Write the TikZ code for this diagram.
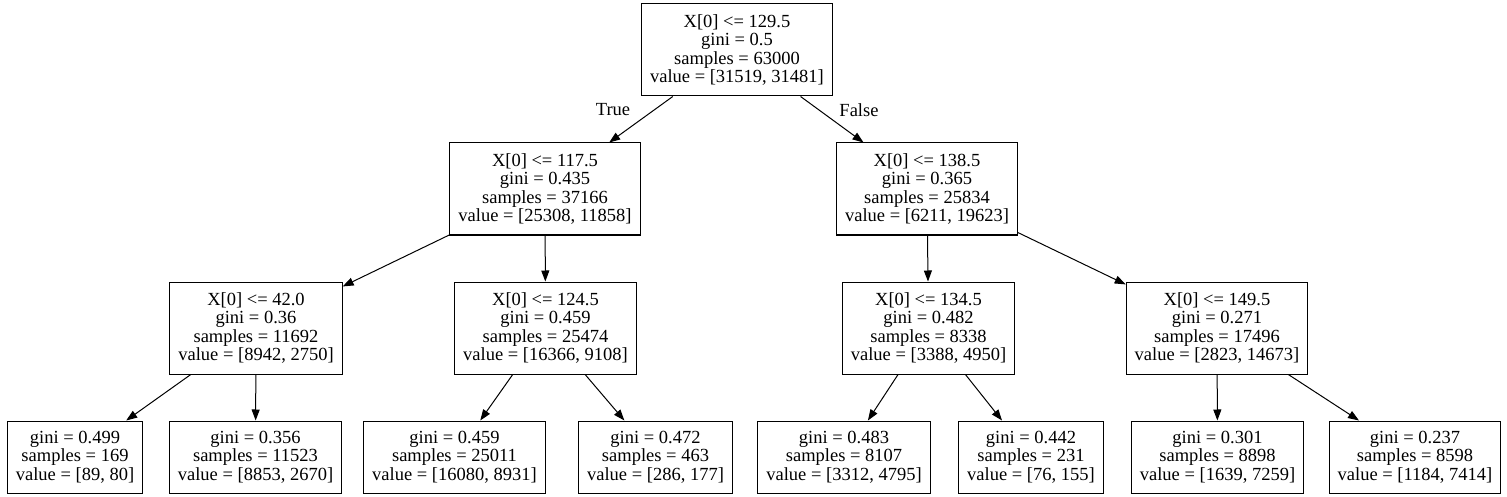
\documentclass[tikz,border=0pt]{standalone}
\usepackage{fontspec}
\setmainfont{Liberation Serif}
\usepackage{tikz}
\usetikzlibrary{arrows.meta,positioning,shapes}

\begin{document}
\begin{tikzpicture}[x=1pt,y=-1pt,-{Triangle[length=11pt,width=8pt]},line width=1pt,
    split/.style={draw,rectangle,align=center,inner xsep=8.5pt,inner ysep=0pt,minimum height=92pt,font=\fontsize{18.5}{18.3}\selectfont},
    leaf/.style={split,minimum height=72pt},
    branch/.style={font=\fontsize{18.5}{18.3}\selectfont}]
%
   \useasboundingbox (0,0) rectangle (1507,497);
   \node[split]  (R)  at (737,50)    {X[0] <= 129.5\\gini = 0.5\\samples = 63000\\value = [31519, 31481]};
   \node[split]  (N1) at (545,189)   {X[0] <= 117.5\\gini = 0.435\\samples = 37166\\value = [25308, 11858]};
   \node[split]  (N2) at (927,189)   {X[0] <= 138.5\\gini = 0.365\\samples = 25834\\value = [6211, 19623]};
   \node[split]  (N3) at (256,328)   {X[0] <= 42.0\\gini = 0.36\\samples = 11692\\value = [8942, 2750]};
   \node[split]  (N4) at (545.5,328) {X[0] <= 124.5\\gini = 0.459\\samples = 25474\\value = [16366, 9108]};
   \node[split]  (N5) at (928.5,328) {X[0] <= 134.5\\gini = 0.482\\samples = 8338\\value = [3388, 4950]};
   \node[split]  (N6) at (1217,328)  {X[0] <= 149.5\\gini = 0.271\\samples = 17496\\value = [2823, 14673]};
   \node[leaf]   (L1) at (75,457)    {gini = 0.499\\samples = 169\\value = [89, 80]};
   \node[leaf]   (L2) at (255.5,457) {gini = 0.356\\samples = 11523\\value = [8853, 2670]};
   \node[leaf]   (L3) at (454.5,457) {gini = 0.459\\samples = 25011\\value = [16080, 8931]};
   \node[leaf]   (L4) at (655.5,457) {gini = 0.472\\samples = 463\\value = [286, 177]};
   \node[leaf]   (L5) at (844,457)   {gini = 0.483\\samples = 8107\\value = [3312, 4795]};
   \node[leaf]   (L6) at (1031,457)  {gini = 0.442\\samples = 231\\value = [76, 155]};
   \node[leaf]   (L7) at (1217.5,457){gini = 0.301\\samples = 8898\\value = [1639, 7259]};
   \node[leaf]   (L8) at (1415,457)  {gini = 0.237\\samples = 8598\\value = [1184, 7414]};
   \node[branch] (T)  at (613,110)   {True};
   \node[branch] (F)  at (859,110)   {False};
   \path (R) edge (N1) (R) edge (N2);
   \path (N1) edge (N3) (N1) edge (N4);
   \path (N2) edge (N5) (N2) edge (N6);
   \path (N3) edge (L1) (N3) edge (L2);
   \path (N4) edge (L3) (N4) edge (L4);
   \path (N5) edge (L5) (N5) edge (L6);
   \path (N6) edge (L7) (N6) edge (L8);
\end{tikzpicture}
\end{document}
